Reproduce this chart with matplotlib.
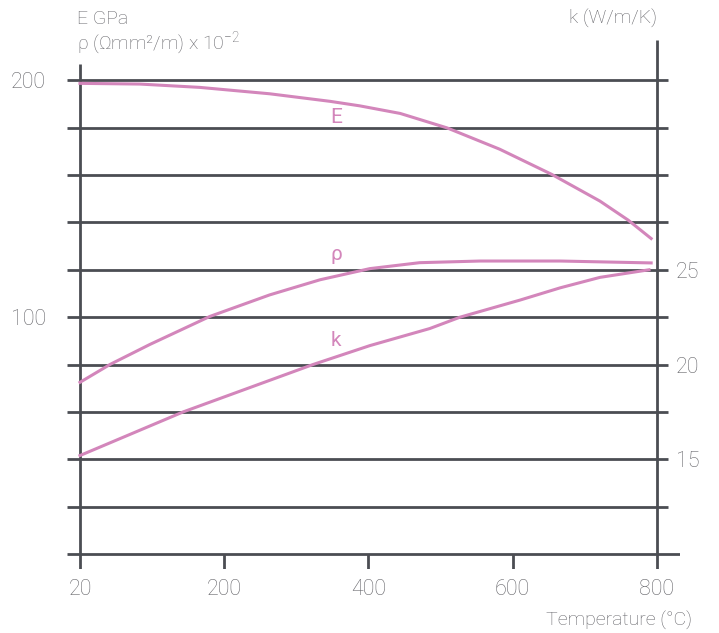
#!/usr/bin/env python3

## Steel properties vs temperature: E modulus, resistivity and thermal conductivity

import matplotlib
matplotlib.use('Agg')
import matplotlib.pyplot as plt

# x positions on the drawn temperature scale (left edge is labelled 20)
temp_E = [0, 83, 166, 263, 347, 388, 444, 509, 582, 654, 721, 760, 792]
E_vals = [198.7, 198.4, 197.0, 194.3, 191.1, 189.2, 186.0, 179.9, 170.9, 160.3, 149.0, 141.0, 133.2]

temp_rho = [0, 42, 97, 180, 263, 333, 402, 471, 555, 666, 792]
rho_vals = [72.5, 80.1, 88.5, 100.3, 109.4, 115.8, 120.5, 123.0, 123.7, 123.7, 122.9]

temp_k = [0, 143, 323, 402, 485, 527, 610, 666, 721, 789]
k_vals = [15.2, 17.5, 20.0, 21.0, 21.9, 22.5, 23.4, 24.05, 24.6, 25.0]

x_ticks = [0, 200, 400, 600, 800]
x_ticklabels = ['20', '200', '400', '600', '800']
left_ticks = [100, 200]
right_ticks = [15, 20, 25]
grid_levels = [20, 40, 60, 80, 100, 120, 140, 160, 180, 200]

pink = '#d386bb'
dark = '#4b4d53'
grey = '#66666b'
fonts = ['Roboto', 'DejaVu Sans']
plt.rcParams['font.family'] = fonts
plt.rcParams['font.weight'] = 'light'
plt.rcParams['mathtext.fontset'] = 'custom'
plt.rcParams['mathtext.rm'] = 'Roboto:light'
plt.rcParams['mathtext.it'] = 'Roboto:light'
plt.rcParams['mathtext.default'] = 'regular'

def k_to_left(k):
    # k axis: 10 at the bottom line, 5 units per two grid steps
    return (k - 10) * 8

fig = plt.figure(figsize=(7.19, 6.33), dpi=100)
ax = fig.add_axes([67/719, 64/633, 613/719, 529/633])
ymin, ymax = -6.3, 217
ax.set_xlim(-18, 832)
ax.set_ylim(ymin, ymax)
for s in ax.spines.values():
    s.set_visible(False)

# grid lines, bottom line and the two vertical axes
ax.hlines(grid_levels, -18, 815, color=dark, lw=2, zorder=1)
ax.hlines(0, -18, 832, color=dark, lw=2, zorder=1)
ax.vlines(0, ymin, 207, color=dark, lw=2, zorder=1)
ax.vlines(800, ymin, ymax, color=dark, lw=2, zorder=1)
ax.vlines([200, 400, 600], ymin, 0, color=dark, lw=2, zorder=1)

# curves
ax.plot(temp_E, E_vals, color=pink, lw=2.2, zorder=3)
ax.plot(temp_rho, rho_vals, color=pink, lw=2.2, zorder=3)
ax.plot(temp_k, [k_to_left(v) for v in k_vals], color=pink, lw=2.2, zorder=3)

ax.text(355, 184.4, 'E', color=pink, fontsize=15, fontweight='normal', ha='center', va='center')
ax.text(355, 126.6, 'ρ', color=pink, fontsize=15, fontweight='normal', ha='center', va='center')
ax.text(355, 90.3, 'k', color=pink, fontsize=15, fontweight='normal', ha='center', va='center')

# ticks
ax.set_xticks(x_ticks)
ax.set_xticklabels(x_ticklabels)
ax.set_yticks(left_ticks)
ax.tick_params(axis='both', length=0, labelsize=15.5, labelcolor=grey)
ax.tick_params(axis='x', pad=7)
ax.tick_params(axis='y', pad=15)

ax2 = ax.twinx()
ax2.set_ylim(ymin / 8 + 10, ymax / 8 + 10)
ax2.set_yticks(right_ticks)
ax2.tick_params(axis='y', length=0, labelsize=15.5, labelcolor=grey, pad=-3)
for s in ax2.spines.values():
    s.set_visible(False)

# axis titles
fig.text(77/719, 1 - 19/633, 'E GPa', fontsize=14, color=grey, va='center')
fig.text(77/719, 1 - 43/633, 'ρ (Ωmm²/m) x 10$^{-2}$', fontsize=14, color=grey, va='center')
fig.text(657/719, 1 - 19/633, 'k (W/m/K)', fontsize=14, color=grey, va='center', ha='right')
fig.text(692/719, 1 - 620/633, 'Temperature (°C)', fontsize=14, color=grey, va='center', ha='right')

fig.savefig('out.png', dpi=100)
